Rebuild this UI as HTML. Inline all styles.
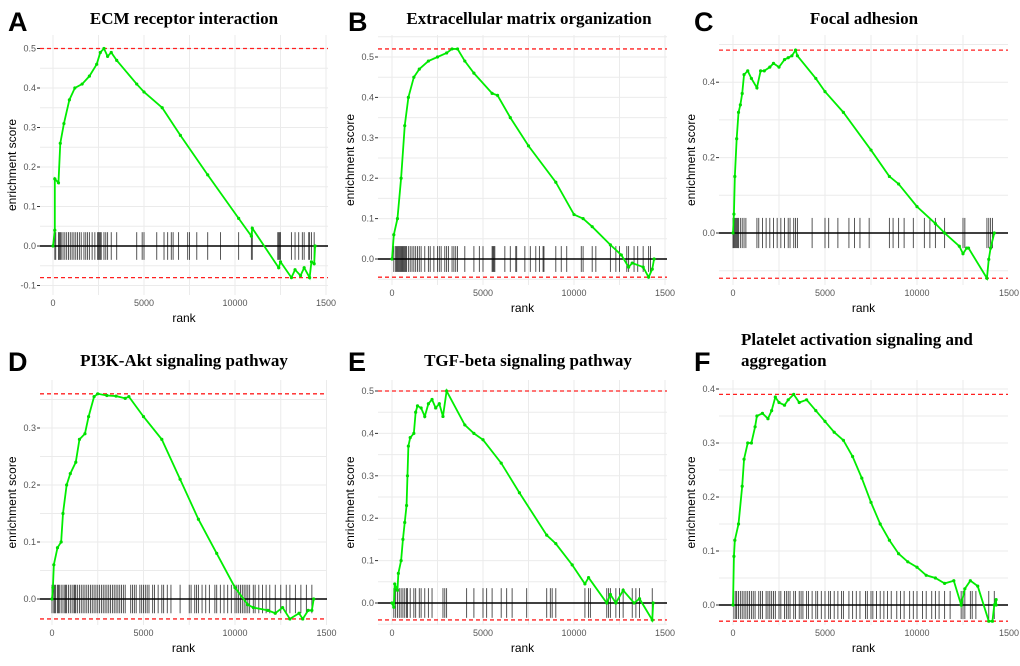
<!DOCTYPE html>
<html><head><meta charset="utf-8">
<style>
body{margin:0;background:#fff;width:1020px;height:666px;overflow:hidden}
svg{display:block}
.t{font-family:"Liberation Serif",serif;font-weight:bold;font-size:17px;fill:#000}
.L{font-family:"Liberation Sans",sans-serif;font-weight:bold;font-size:27px;fill:#000}
.tk{font-family:"Liberation Sans",sans-serif;font-size:9px;fill:#555}
.ax{font-family:"Liberation Sans",sans-serif;font-size:12px;fill:#000}
</style></head><body>
<svg id="fig" width="1020" height="666"></svg>
<script>
// ---- data (rank in thousands, enrichment score) ----
const esA=[[0,0],[0.1,0.04],[0.1,0.17],[0.3,0.16],[0.4,0.26],[0.6,0.31],[0.9,0.37],[1.2,0.40],[1.6,0.41],[2.0,0.43],[2.4,0.46],[2.6,0.49],[2.8,0.50],[3.0,0.48],[3.2,0.49],[3.5,0.47],[4.6,0.41],[5.0,0.39],[6.0,0.35],[7.0,0.28],[8.5,0.18],[10.2,0.07],[10.9,0.025],[10.95,0.045],[12.4,-0.055],[12.5,-0.04],[13.1,-0.08],[13.3,-0.06],[13.6,-0.075],[13.8,-0.055],[14.1,-0.08],[14.2,-0.04],[14.35,-0.045],[14.4,0.0]];
const hitsA=[0.1,0.15,0.3,0.35,0.4,0.45,0.55,0.65,0.75,0.85,0.95,1.05,1.15,1.25,1.35,1.45,1.55,1.7,1.8,1.9,2.0,2.15,2.3,2.45,2.5,2.55,2.6,2.65,2.8,2.9,3.0,3.2,3.5,4.6,4.9,5.0,5.7,6.1,6.3,6.5,6.6,6.9,7.4,7.5,7.9,8.5,9.2,10.2,10.9,10.95,12.35,12.4,12.45,12.5,13.1,13.3,13.5,13.7,13.8,14.05,14.1,14.2,14.35];
const esB=[[0,0],[0.1,0.06],[0.3,0.1],[0.5,0.2],[0.7,0.33],[0.9,0.4],[1.2,0.45],[1.5,0.47],[2.0,0.49],[2.5,0.50],[3.0,0.51],[3.3,0.52],[3.6,0.52],[4.0,0.49],[4.5,0.46],[5.5,0.41],[5.8,0.405],[6.5,0.35],[7.5,0.28],[9.0,0.19],[10.0,0.11],[10.5,0.1],[11.0,0.08],[12.0,0.035],[12.6,0.01],[13.0,-0.02],[13.2,-0.01],[13.8,-0.02],[14.1,-0.045],[14.3,-0.025],[14.4,0]];
const hitsB=[0.1,0.2,0.25,0.3,0.35,0.4,0.45,0.5,0.55,0.6,0.65,0.7,0.75,0.8,0.9,1.0,1.1,1.2,1.3,1.4,1.5,1.6,1.8,2.0,2.1,2.3,2.5,2.6,2.7,2.9,3.0,3.1,3.3,3.4,3.5,3.6,4.0,4.5,4.8,5.0,5.5,5.55,5.6,5.65,6.2,6.5,6.8,6.85,7.3,7.6,7.9,8.1,8.3,8.35,9.0,9.3,9.6,10.4,10.5,11.0,11.2,12.0,12.3,12.5,12.9,13.0,13.3,13.5,13.8,14.1,14.2];
const esC=[[0,0],[0.05,0.05],[0.1,0.15],[0.2,0.25],[0.3,0.32],[0.4,0.34],[0.5,0.37],[0.6,0.42],[0.8,0.43],[1.0,0.41],[1.3,0.385],[1.5,0.43],[1.7,0.43],[2.0,0.44],[2.2,0.45],[2.5,0.44],[2.8,0.46],[3.0,0.465],[3.2,0.47],[3.4,0.485],[3.5,0.47],[4.5,0.41],[5.0,0.375],[6.0,0.32],[7.5,0.22],[8.5,0.15],[9.0,0.13],[10.0,0.07],[11.0,0.025],[11.5,0.0],[12.3,-0.035],[12.5,-0.055],[12.7,-0.04],[12.8,-0.04],[13.8,-0.12],[13.9,-0.07],[14.0,-0.04],[14.2,0.0]];
const hitsC=[0.0,0.05,0.1,0.15,0.2,0.25,0.3,0.4,0.5,0.6,0.7,1.3,1.4,1.6,1.8,2.0,2.2,2.4,2.6,2.8,3.0,3.1,3.3,3.4,3.5,4.3,5.0,5.2,5.7,6.3,6.6,6.9,7.4,8.5,8.7,9.0,9.3,9.8,10.4,10.7,11.0,11.5,12.5,12.6,13.8,13.9,14.0,14.1];
const esD=[[0,0],[0.05,0.02],[0.1,0.06],[0.3,0.09],[0.5,0.1],[0.6,0.15],[0.8,0.2],[1.0,0.22],[1.3,0.24],[1.5,0.28],[1.8,0.29],[2.0,0.32],[2.3,0.355],[2.5,0.36],[3.0,0.357],[3.5,0.356],[4.0,0.352],[4.2,0.355],[5.0,0.32],[6.0,0.28],[7.0,0.21],[8.0,0.14],[9.0,0.08],[10.0,0.02],[10.7,-0.01],[11.0,-0.015],[11.8,-0.02],[12.2,-0.025],[12.6,-0.015],[13.0,-0.035],[13.5,-0.025],[13.7,-0.035],[14.0,-0.02],[14.2,-0.02],[14.3,0]];
const hitsD=[0.0,0.1,0.15,0.2,0.3,0.35,0.4,0.5,0.6,0.7,0.75,0.8,0.9,1.0,1.1,1.2,1.25,1.3,1.4,1.5,1.6,1.7,1.8,1.9,2.0,2.1,2.2,2.3,2.4,2.5,2.6,2.7,2.8,2.9,3.0,3.1,3.2,3.3,3.4,3.5,3.6,3.7,3.8,3.9,4.0,4.3,4.4,4.5,4.6,4.8,4.9,5.0,5.1,5.2,5.3,5.5,5.6,5.8,6.0,6.1,6.3,6.5,7.0,7.5,7.6,7.8,7.9,8.0,8.2,8.4,8.6,8.9,9.0,9.2,9.4,9.6,9.8,10.0,10.1,10.2,10.3,10.4,10.5,10.6,10.7,10.8,11.0,11.1,11.3,11.5,11.7,11.9,12.2,12.5,12.8,13.0,13.3,13.6,13.9,14.2];
const esE=[[0,0],[0.1,-0.01],[0.15,0.045],[0.3,0.03],[0.35,0.07],[0.5,0.1],[0.6,0.15],[0.7,0.19],[0.8,0.23],[0.85,0.3],[0.9,0.37],[1.0,0.39],[1.2,0.4],[1.3,0.45],[1.4,0.465],[1.6,0.46],[1.8,0.44],[2.0,0.47],[2.2,0.48],[2.4,0.46],[2.6,0.47],[2.8,0.44],[3.0,0.5],[4.0,0.42],[4.5,0.4],[5.0,0.385],[6.0,0.33],[7.0,0.26],[8.5,0.16],[9.0,0.14],[9.9,0.09],[10.6,0.045],[10.8,0.06],[11.8,0.0],[12.0,0.02],[12.3,0.0],[12.7,0.03],[13.3,0.0],[13.6,0.01],[14.3,-0.04],[14.35,0.0]];
const hitsE=[0.1,0.2,0.3,0.4,0.5,0.6,0.7,0.8,0.85,1.0,1.2,1.3,1.5,1.6,1.8,2.0,2.2,2.8,2.9,3.0,4.1,4.5,5.0,5.2,5.5,6.0,6.3,6.6,7.4,8.5,8.7,8.8,9.0,10.6,10.8,10.9,11.8,11.9,12.0,12.3,12.5,12.7,13.2,13.4,13.6,14.3];
const esF=[[0,0],[0.05,0.09],[0.1,0.12],[0.3,0.15],[0.5,0.22],[0.6,0.27],[0.8,0.3],[1.0,0.3],[1.2,0.33],[1.3,0.35],[1.6,0.355],[1.9,0.345],[2.1,0.36],[2.3,0.385],[2.5,0.375],[2.8,0.37],[3.0,0.38],[3.3,0.39],[3.6,0.375],[4.0,0.38],[4.5,0.36],[5.0,0.34],[5.5,0.32],[6.0,0.305],[6.5,0.275],[7.0,0.235],[7.5,0.19],[8.0,0.15],[8.5,0.12],[9.0,0.095],[9.5,0.08],[10.0,0.07],[10.5,0.055],[11.0,0.05],[11.5,0.04],[12.0,0.045],[12.4,0.0],[12.6,0.03],[12.9,0.045],[13.3,0.035],[13.9,-0.03],[14.1,-0.03],[14.2,0.0],[14.3,0.01],[14.3,0]];
const hitsF=[0.05,0.15,0.2,0.3,0.4,0.5,0.6,0.7,0.8,0.9,1.0,1.1,1.2,1.4,1.5,1.6,1.8,1.9,2.0,2.1,2.2,2.3,2.5,2.6,2.8,2.9,3.0,3.1,3.3,3.4,3.6,3.7,3.8,4.0,4.1,4.3,4.5,4.6,4.8,5.0,5.2,5.3,5.5,5.7,5.9,6.0,6.3,6.5,6.7,6.9,7.2,7.3,7.5,7.6,7.8,8.0,8.2,8.4,8.6,8.9,9.1,9.3,9.6,9.8,10.0,10.3,10.5,10.8,11.0,11.2,11.5,11.8,12.4,12.5,12.6,12.9,13.0,13.2,13.9,14.2];
const yTicksA=[-0.1,0,0.1,0.2,0.3,0.4,0.5];
const yTicksB=[0,0.1,0.2,0.3,0.4,0.5];
const yTicksC=[0,0.2,0.4];
const yTicksD=[0,0.1,0.2,0.3];
const yTicksE=[0,0.1,0.2,0.3,0.4,0.5];
const yTicksF=[0,0.1,0.2,0.3,0.4];
const xTicks=[0,5,10,15];
const xTickLabels=["0","5000","10000","1500"];

const panels=[
 {id:"a",letter:"A",title:["ECM receptor interaction"],tx:184,ty:24,lx:8,ly:31,es:esA,hits:hitsA,yt:yTicksA,x0:53,xs:18.2,y0:246,ys:395,l:40,r:328,t:35,b:295,h:0.035,minor:0.05},
 {id:"b",letter:"B",title:["Extracellular matrix organization"],tx:529,ty:24,lx:348,ly:31,es:esB,hits:hitsB,yt:yTicksB,x0:392,xs:18.2,y0:259,ys:404,l:378,r:667,t:35,b:285,h:0.032,minor:0.05},
 {id:"c",letter:"C",title:["Focal adhesion"],tx:864,ty:24,lx:694,ly:31,es:esC,hits:hitsC,yt:yTicksC,x0:733,xs:18.4,y0:233,ys:377,l:719,r:1008,t:35,b:285,h:0.04,minor:0.1},
 {id:"d",letter:"D",title:["PI3K-Akt signaling pathway"],tx:184,ty:366,lx:8,ly:371,es:esD,hits:hitsD,yt:yTicksD,x0:52,xs:18.3,y0:599,ys:570,l:40,r:327,t:380,b:625,h:0.025,minor:0.05},
 {id:"e",letter:"E",title:["TGF-beta signaling pathway"],tx:528,ty:366,lx:348,ly:371,es:esE,hits:hitsE,yt:yTicksE,x0:392,xs:18.2,y0:603,ys:424,l:378,r:667,t:380,b:625,h:0.035,minor:0.05},
 {id:"f",letter:"F",title:["Platelet activation signaling and","aggregation"],tx:741,ty:345,lx:694,ly:371,es:esF,hits:hitsF,yt:yTicksF,x0:733,xs:18.4,y0:605,ys:540,l:719,r:1008,t:380,b:625,h:0.026,minor:0.05,left:true}
];
const NS="http://www.w3.org/2000/svg";
const fig=document.getElementById("fig");
function mk(tag,attrs,parent){const e=document.createElementNS(NS,tag);for(const k in attrs)e.setAttribute(k,attrs[k]);parent.appendChild(e);return e;}
panels.forEach(p=>{
 const g=mk("g",{},fig);
 
 
 const X=v=>p.x0+v*p.xs, Y=v=>p.y0-v*p.ys;
 const ymin=(p.b-p.y0)/-p.ys, ymax=(p.y0-p.t)/p.ys;
 for(let v=Math.ceil(ymin/p.minor)*p.minor;v<=ymax;v+=p.minor){
   const gl=mk("line",{x1:p.l,x2:p.r,y1:Y(v),y2:Y(v),stroke:"#ebebeb","stroke-width":1},g);
   
   
 }
 for(let v=0;v<=15.1;v+=2.5){ if(X(v)>p.r)continue;
   const gl=mk("line",{x1:X(v),x2:X(v),y1:p.t,y2:p.b,stroke:"#ebebeb","stroke-width":1},g);
   
   
 }
 p.hits.forEach(h=>{
   const hl=mk("line",{x1:X(h),x2:X(h),y1:Y(p.h),y2:Y(-p.h),stroke:"#222","stroke-width":0.9,"stroke-opacity":0.85},g);
   
   
 });
 const z=mk("line",{x1:p.l,x2:p.r,y1:Y(0),y2:Y(0),stroke:"#000","stroke-width":1.5},g);
 
 
 const vals=p.es.map(d=>d[1]);const mx=Math.max(...vals),mn=Math.min(...vals);
 [mx,mn].forEach((v,i)=>{
   const dl=mk("line",{x1:p.l,x2:p.r,y1:Y(v),y2:Y(v),stroke:"#ff2020","stroke-width":1.3,"stroke-dasharray":"4,3"},g);
   
   
 });
 const pl=mk("polyline",{points:p.es.map(d=>X(d[0])+","+Y(d[1])).join(" "),fill:"none",stroke:"#00ee00","stroke-width":1.8},g);
 
 
 p.es.forEach(d=>{
   const c=mk("circle",{cx:X(d[0]),cy:Y(d[1]),r:1.6,fill:"#00dd00"},g);
   
   
 });
 p.yt.forEach(v=>{
   const tl=mk("line",{x1:p.l-3,x2:p.l,y1:Y(v),y2:Y(v),stroke:"#333","stroke-width":1},g);
   
   
   const t=mk("text",{x:p.l-4,y:Y(v)+3,"text-anchor":"end",class:"tk"},g);
   t.textContent=v.toFixed(1);
   
   
 });
 xTicks.forEach((v,i)=>{
   if(X(v)>p.r+3)return;
   const t=mk("text",{x:X(v),y:p.b+11,"text-anchor":"middle",class:"tk"},g);
   t.textContent=xTickLabels[i];
   
   
 });
 const xt=mk("text",{x:(p.l+p.r)/2,y:p.b+27,"text-anchor":"middle",class:"ax"},g);
 xt.textContent="rank";
 
 
 const yy=(p.t+p.b)/2, yx=p.l-24;
 const yt=mk("text",{x:yx,y:yy,"text-anchor":"middle",class:"ax",transform:`rotate(-90 ${yx} ${yy})`},g);
 yt.textContent="enrichment score";
 
 
 const L=mk("text",{x:p.lx,y:p.ly,class:"L"},g);
 L.textContent=p.letter;
 
 
 p.title.forEach((s,i)=>{
   const t=mk("text",{x:p.tx,y:p.ty+i*21,"text-anchor":p.left?"start":"middle",class:"t"},g);
   t.textContent=s;
   
   
 });
});
</script>
</body></html>
